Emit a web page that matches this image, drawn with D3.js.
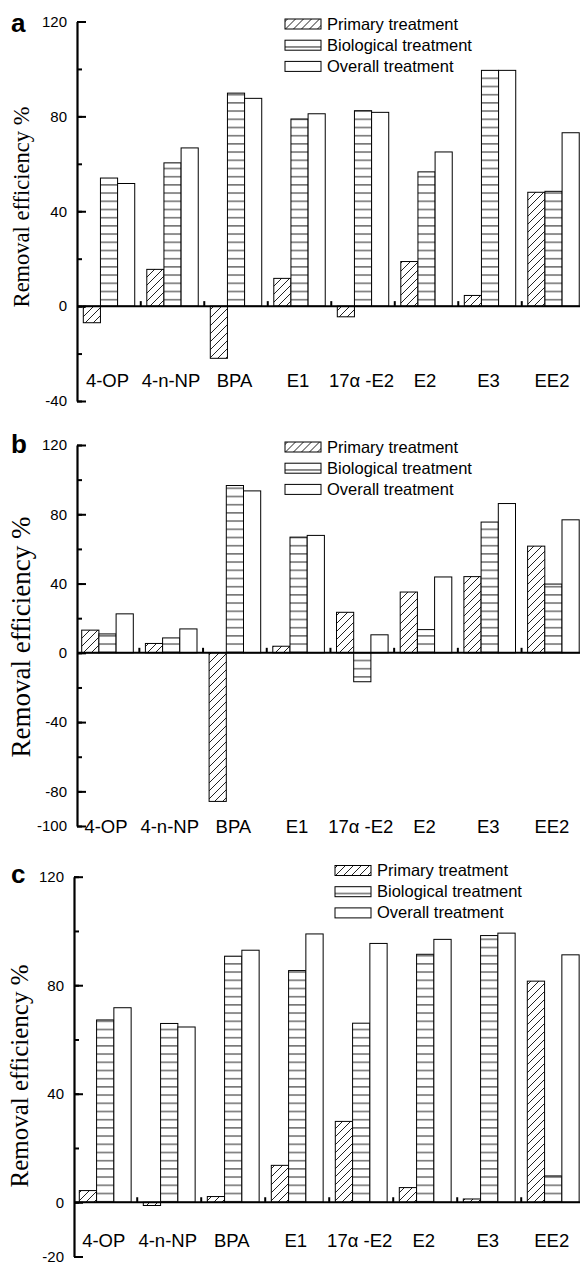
<!DOCTYPE html>
<html>
<head>
<meta charset="utf-8">
<script src="https://cdn.jsdelivr.net/npm/d3@7"></script>
<style>
  body { margin: 0; background: #fff; }
  svg { display: block; }
  .tick text { font-family: "Liberation Sans", Arial, sans-serif; }
</style>
</head>
<body>
<svg id="chart" width="580" height="1265"></svg>
<script>
// categories and series
var categories = ["4-OP", "4-n-NP", "BPA", "E1", "17α -E2", "E2", "E3", "EE2"];
var seriesNames = ["Primary treatment", "Biological treatment", "Overall treatment"];

// panel a
var primaryA = [-7, 15.5, -22, 11.7, -4.5, 18.8, 4.5, 48];
var biologicalA = [54, 60.4, 89.8, 78.9, 82.4, 56.6, 99.4, 48.4];
var overallA = [51.7, 66.7, 87.6, 81.1, 81.7, 65, 99.4, 73.1];
var domainA = [-40, 120];
var tickLabelsA = [-40, 0, 40, 80, 120];

// panel b
var primaryB = [13.1, 5.4, -85.8, 3.8, 23.4, 35.1, 44, 61.6];
var biologicalB = [10.9, 8.6, 96.6, 66.8, -16.7, 13.4, 75.5, 39.7];
var overallB = [22.5, 13.8, 93.5, 67.8, 10.4, 43.8, 86.2, 76.8];
var domainB = [-100, 120];
var tickLabelsB = [-100, -80, -40, 0, 40, 80, 120];

// panel c
var primaryC = [4.3, -1.2, 2.1, 13.6, 29.8, 5.4, 1.2, 81.5];
var biologicalC = [67.2, 65.9, 90.7, 85.4, 66, 91.4, 98.3, 9.7];
var overallC = [71.7, 64.6, 92.9, 98.9, 95.4, 96.9, 99.2, 91.2];
var domainC = [-20, 120];
var tickLabelsC = [-20, 0, 40, 80, 120];

var minorStep = 20;
var fills = ["url(#hatch)", "url(#hlines)", "#fff"];

// layout of each panel (pixel positions only)
var panels = [
    { letter: "a", series: [primaryA, biologicalA, overallA], domain: domainA, labels: tickLabelsA,
      top: 21.5, bottom: 401, axisX: 77, step: 63.5, firstBar: 83.3, labelY: 387,
      legendX: 285, legendY: 29.5, letterY: 32, titleX: 28.5, titleY: 207, titleSize: 22.5 },
    { letter: "b", series: [primaryB, biologicalB, overallB], domain: domainB, labels: tickLabelsB,
      top: 445, bottom: 826, axisX: 77, step: 63.7, firstBar: 81.7, labelY: 833,
      legendX: 285, legendY: 452.5, letterY: 453, titleX: 30, titleY: 637, titleSize: 27 },
    { letter: "c", series: [primaryC, biologicalC, overallC], domain: domainC, labels: tickLabelsC,
      top: 876.7, bottom: 1256.5, axisX: 74, step: 64, firstBar: 79.3, labelY: 1247,
      legendX: 335, legendY: 876, letterY: 883, titleX: 28, titleY: 1076, titleSize: 25 }
];

var svg = d3.select("#chart");
var defs = svg.append("defs");

defs.append("pattern")
    .attr("id", "hatch")
    .attr("patternUnits", "userSpaceOnUse")
    .attr("width", 8)
    .attr("height", 8)
    .append("path")
    .attr("d", "M-2,2 L2,-2 M0,8 L8,0 M6,10 L10,6")
    .attr("stroke", "#222")
    .attr("stroke-width", 1);

var hp = defs.append("pattern")
    .attr("id", "hlines")
    .attr("patternUnits", "userSpaceOnUse")
    .attr("width", 8)
    .attr("height", 8.2);
hp.append("rect").attr("width", 8).attr("height", 8.2).attr("fill", "#fff");
hp.append("line")
    .attr("x1", 0).attr("x2", 8)
    .attr("y1", 4.5).attr("y2", 4.5)
    .attr("stroke", "#222")
    .attr("stroke-width", 1);

function drawPanel(p) {
    var g = svg.append("g");
    var paddingInner = 0.19;
    var paddingOuter = (p.firstBar - p.axisX) / p.step;
    var width = p.step * (categories.length - paddingInner + 2 * paddingOuter);

    var x0 = d3.scaleBand()
        .domain(categories)
        .range([p.axisX, p.axisX + width])
        .paddingInner(paddingInner)
        .paddingOuter(paddingOuter);
    var x1 = d3.scaleBand()
        .domain(d3.range(seriesNames.length))
        .range([0, x0.bandwidth()]);
    var y = d3.scaleLinear()
        .domain(p.domain)
        .range([p.bottom, p.top]);

    // bars
    var rows = categories.map(function (c, i) {
        return p.series.map(function (s, j) {
            return { cat: c, j: j, value: s[i] };
        });
    });
    g.selectAll("g.group")
        .data(rows)
        .enter()
        .append("g")
        .attr("class", "group")
        .selectAll("rect")
        .data(function (d) { return d; })
        .enter()
        .append("rect")
        .attr("x", function (d) { return x0(d.cat) + x1(d.j); })
        .attr("y", function (d) { return Math.min(y(d.value), y(0)); })
        .attr("width", x1.bandwidth())
        .attr("height", function (d) { return Math.abs(y(d.value) - y(0)); })
        .attr("fill", function (d) { return fills[d.j]; })
        .attr("stroke", "#000")
        .attr("stroke-width", 1);

    // x axis at zero with ticks between categories
    g.append("line")
        .attr("x1", p.axisX).attr("x2", 580)
        .attr("y1", y(0)).attr("y2", y(0))
        .attr("stroke", "#000")
        .attr("stroke-width", 2);
    g.selectAll("line.xtick")
        .data(categories.slice(1))
        .enter()
        .append("line")
        .attr("class", "xtick")
        .attr("x1", function (d) { return x0(d) - x0.step() * paddingInner / 2; })
        .attr("x2", function (d) { return x0(d) - x0.step() * paddingInner / 2; })
        .attr("y1", y(0))
        .attr("y2", y(0) - 5)
        .attr("stroke", "#000")
        .attr("stroke-width", 2);
    g.selectAll("text.cat")
        .data(categories)
        .enter()
        .append("text")
        .attr("class", "cat")
        .attr("x", function (d) { return x0(d) + x0.bandwidth() / 2 - 1.5; })
        .attr("y", p.labelY)
        .attr("text-anchor", "middle")
        .attr("font-family", "Liberation Sans, Arial, sans-serif")
        .attr("font-size", 18.5)
        .text(function (d) { return d; });

    // y axis: minor then labelled ticks, pointing inward
    var minor = d3.range(p.domain[0], p.domain[1] + 1, minorStep);
    g.append("g")
        .attr("transform", "translate(" + p.axisX + ",0)")
        .call(d3.axisLeft(y).tickValues(minor).tickSize(-5).tickFormat(""))
        .call(function (a) { a.select(".domain").remove(); })
        .selectAll("line").attr("stroke-width", 2);
    var ya = g.append("g")
        .attr("transform", "translate(" + p.axisX + ",0)")
        .call(d3.axisLeft(y).tickValues(p.labels).tickSize(-9).tickSizeOuter(0).tickPadding(10)
            .tickFormat(function (d) { return String(d); }));
    ya.select(".domain").attr("stroke-width", 2.2);
    ya.selectAll("line").attr("stroke-width", 2);
    ya.selectAll("text").attr("font-size", 15).attr("fill", "#000");

    // axis title
    g.append("text")
        .attr("transform", "translate(" + p.titleX + "," + p.titleY + ") rotate(-90)")
        .attr("text-anchor", "middle")
        .attr("font-family", "Liberation Serif, Times New Roman, serif")
        .attr("font-size", p.titleSize)
        .text("Removal efficiency %");

    // panel letter
    g.append("text")
        .attr("x", 11)
        .attr("y", p.letterY)
        .attr("font-family", "Liberation Sans, Arial, sans-serif")
        .attr("font-weight", "bold")
        .attr("font-size", 26)
        .text(p.letter);

    // legend
    var lg = g.selectAll("g.legend")
        .data(seriesNames)
        .enter()
        .append("g")
        .attr("class", "legend")
        .attr("transform", function (d, i) {
            return "translate(" + p.legendX + "," + (p.legendY + i * 21.2) + ")";
        });
    lg.append("rect")
        .attr("x", 0)
        .attr("y", -10.5)
        .attr("width", 36)
        .attr("height", 10)
        .attr("fill", function (d, i) { return fills[i]; })
        .attr("stroke", "#000")
        .attr("stroke-width", 1);
    lg.append("text")
        .attr("x", 42)
        .attr("y", 0)
        .attr("font-family", "Liberation Sans, Arial, sans-serif")
        .attr("font-size", 16.5)
        .text(function (d) { return d; });
}

panels.forEach(drawPanel);
</script>
</body>
</html>
